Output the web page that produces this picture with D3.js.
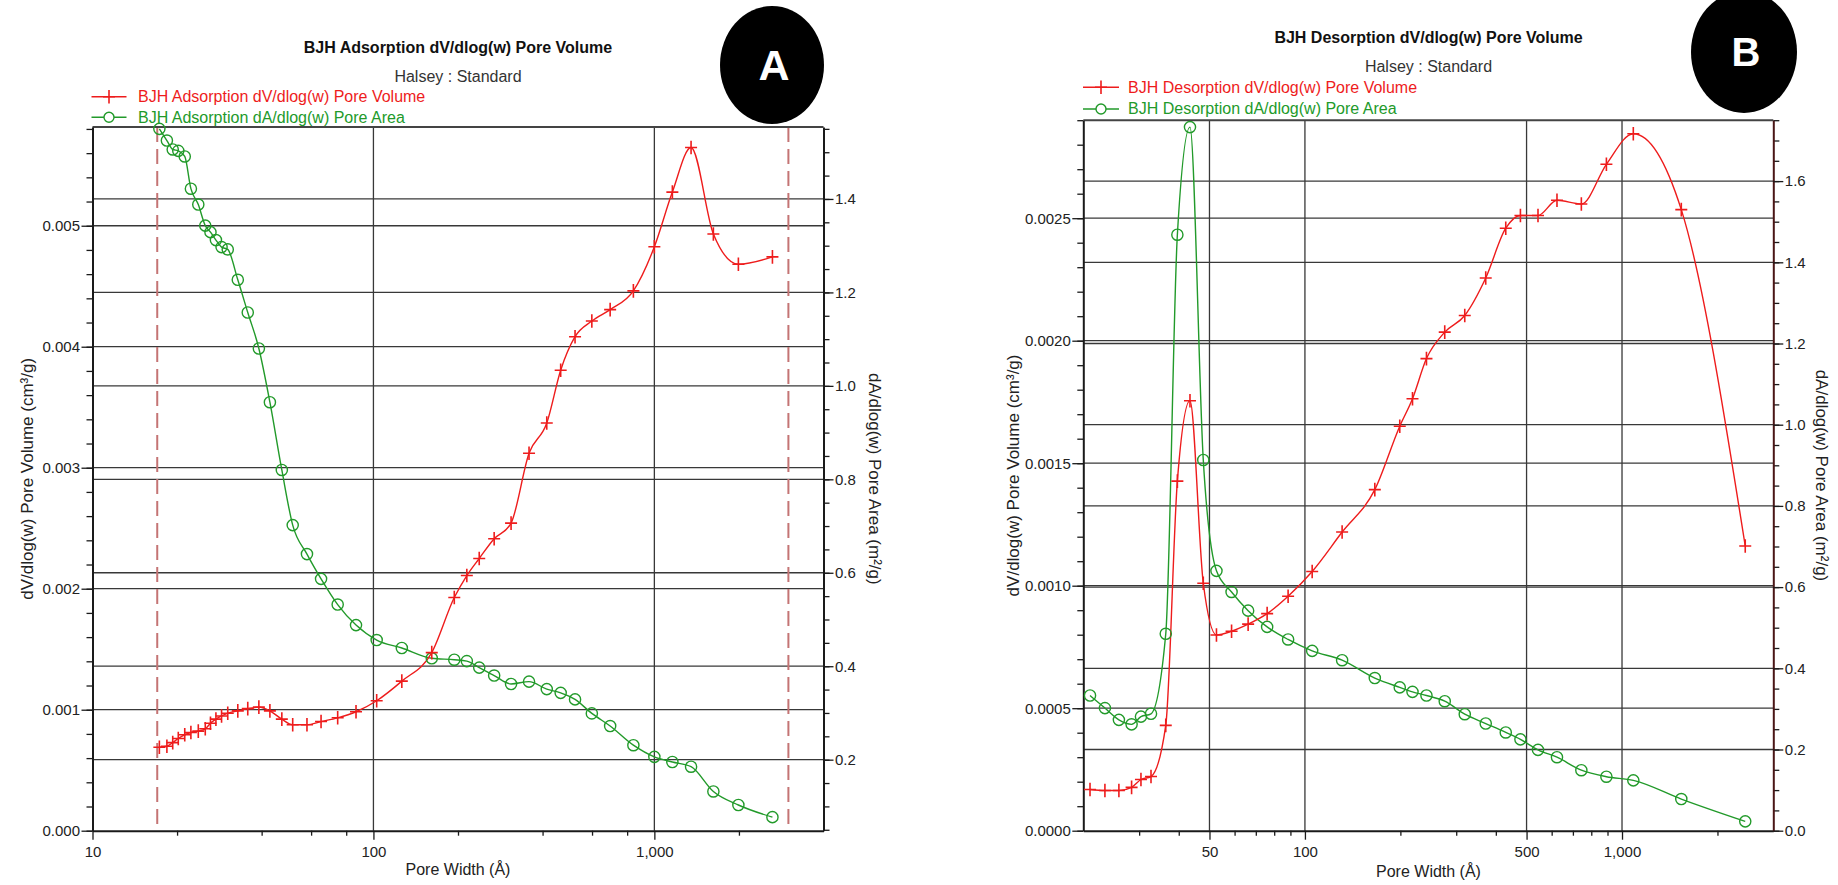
<!DOCTYPE html>
<html>
<head>
<meta charset="utf-8">
<script src="https://cdn.jsdelivr.net/npm/d3@7"></script>
<style>
  html, body { margin: 0; padding: 0; background: #fff; }
  svg { display: block; font-family: "Liberation Sans", Arial, Helvetica, sans-serif; }
</style>
</head>
<body>
<svg id="chart" width="1838" height="885"></svg>
<script>
// ---- BJH adsorption branch ----
// pore width (Å)
const adsWidth = [17.3, 18.4, 19.3, 20.2, 21.3, 22.4, 23.8, 25.2, 26.3, 27.5, 28.8, 30.3, 32.9, 35.7,
  39.1, 42.8, 47.2, 51.6, 58.0, 65.1, 74.6, 86.7, 102.7, 126.2, 161.3, 194, 215, 238, 269, 309,
  358, 414, 464, 522, 599, 696, 842, 1000, 1159, 1351, 1622, 1991, 2632];
// dV/dlog(w) pore volume (cm³/g)
const adsVolume = [0.000690, 0.000698, 0.000728, 0.000762, 0.000793, 0.000812, 0.000823, 0.000842,
  0.000888, 0.000922, 0.000948, 0.000971, 0.000990, 0.001009, 0.001021, 0.000990, 0.000922, 0.000876,
  0.000876, 0.000902, 0.000933, 0.000983, 0.001074, 0.001236, 0.001472, 0.001927, 0.002109, 0.002250,
  0.002413, 0.002542, 0.003119, 0.003369, 0.003806, 0.004083, 0.004212, 0.004307, 0.004462, 0.004826,
  0.005278, 0.005646, 0.004932, 0.004682, 0.004743];
// dA/dlog(w) pore area (m²/g)
const adsArea = [1.550, 1.525, 1.506, 1.503, 1.491, 1.422, 1.388, 1.343, 1.329, 1.312, 1.297, 1.292,
  1.227, 1.157, 1.080, 0.965, 0.820, 0.702, 0.640, 0.587, 0.532, 0.488, 0.456, 0.439, 0.417, 0.414,
  0.411, 0.397, 0.380, 0.362, 0.367, 0.351, 0.343, 0.329, 0.299, 0.272, 0.231, 0.206, 0.195, 0.185,
  0.132, 0.103, 0.077];

// ---- BJH desorption branch ----
const desWidth = [21.0, 23.4, 25.9, 28.4, 30.4, 32.7, 36.4, 39.6, 43.4, 47.8, 52.6, 58.7, 66.2, 76.0,
  88.5, 105.4, 131.0, 166.1, 199.1, 218.4, 241.7, 276.0, 319.2, 371.7, 429.9, 478.2, 543.3, 623.6,
  744.3, 892.8, 1085.5, 1538, 2447];
const desVolume = [0.000168, 0.000164, 0.000164, 0.000177, 0.000209, 0.000221, 0.000430, 0.001427,
  0.001755, 0.001010, 0.000799, 0.000814, 0.000843, 0.000886, 0.000957, 0.001058, 0.001219, 0.001392,
  0.001651, 0.001763, 0.001927, 0.002035, 0.002103, 0.002256, 0.002459, 0.002511, 0.002511, 0.002573,
  0.002558, 0.002720, 0.002845, 0.002535, 0.001162];
const desArea = [0.333, 0.302, 0.273, 0.262, 0.281, 0.288, 0.485, 1.468, 1.733, 0.913, 0.640, 0.588,
  0.542, 0.502, 0.471, 0.443, 0.420, 0.376, 0.353, 0.342, 0.333, 0.319, 0.287, 0.264, 0.242, 0.225,
  0.199, 0.181, 0.149, 0.133, 0.124, 0.078, 0.023];

// ---- axis ranges and ticks ----
const adsWidthDomain = [10, 4000];
const adsVolumeDomain = [0, 0.005816];
const adsAreaDomain = [0.048, 1.554];
const adsWidthTicks = [10, 100, 1000];
const adsWidthMinor = [20, 40, 60, 80, 200, 400, 600, 800, 2000];
const adsVolumeTicks = [0, 0.001, 0.002, 0.003, 0.004, 0.005];
const adsAreaTicks = [0.2, 0.4, 0.6, 0.8, 1.0, 1.2, 1.4];
const adsLimits = [17, 3000];

const desWidthDomain = [20, 3000];
const desVolumeDomain = [0, 0.0029];
const desAreaDomain = [0, 1.75];
const desWidthTicks = [50, 100, 500, 1000];
const desWidthMinor = [30, 40, 60, 70, 80, 90, 200, 300, 400, 600, 700, 800, 900, 2000];
const desVolumeTicks = [0, 0.0005, 0.0010, 0.0015, 0.0020, 0.0025];
const desAreaTicks = [0, 0.2, 0.4, 0.6, 0.8, 1.0, 1.2, 1.4, 1.6];
const desLimits = [];

const RED = '#ee1c1c';
const GREEN = '#229a2a';
const INK = '#1a1a1a';

const svg = d3.select('#chart');

const panels = [
  {
    label: 'A', badge: { cx: 772, cy: 65, rx: 52, ry: 59, fs: 43 },
    title: 'BJH Adsorption dV/dlog(w) Pore Volume', titleY: 53, subY: 82, cx: 458,
    volName: 'BJH Adsorption dV/dlog(w) Pore Volume', areaName: 'BJH Adsorption dA/dlog(w) Pore Area',
    legend: { x0: 91.5, x1: 126.5, tx: 138, y: [96.7, 117.3] },
    box: { left: 92.5, right: 823.5, top: 127, bottom: 830.7 },
    width: adsWidth, volume: adsVolume, area: adsArea,
    widthDomain: adsWidthDomain, volumeDomain: adsVolumeDomain, areaDomain: adsAreaDomain,
    widthTicks: adsWidthTicks, widthMinor: adsWidthMinor,
    volumeTicks: adsVolumeTicks, volumeMinorStep: 0.0002, volumeFormat: '.3f',
    areaTicks: adsAreaTicks, areaMinorStep: 0.05,
    limits: adsLimits, xTitleY: 875, leftTitleX: 27, rightTitleX: 875, rightAxisColor: INK
  },
  {
    label: 'B', badge: { cx: 1744, cy: 52, rx: 53, ry: 61, fs: 40 },
    title: 'BJH Desorption dV/dlog(w) Pore Volume', titleY: 43, subY: 72, cx: 1428.5,
    volName: 'BJH Desorption dV/dlog(w) Pore Volume', areaName: 'BJH Desorption dA/dlog(w) Pore Area',
    legend: { x0: 1083, x1: 1119, tx: 1128, y: [87.3, 109] },
    box: { left: 1083.3, right: 1773.3, top: 120.2, bottom: 830.7 },
    width: desWidth, volume: desVolume, area: desArea,
    widthDomain: desWidthDomain, volumeDomain: desVolumeDomain, areaDomain: desAreaDomain,
    widthTicks: desWidthTicks, widthMinor: desWidthMinor,
    volumeTicks: desVolumeTicks, volumeMinorStep: 0.0001, volumeFormat: '.4f',
    areaTicks: desAreaTicks, areaMinorStep: 0.05,
    limits: desLimits, xTitleY: 877, leftTitleX: 1013, rightTitleX: 1822, rightAxisColor: '#4a1616'
  }
];

function minorValues(domain, step) {
  const out = [];
  const start = Math.ceil(domain[0] / step - 1e-9);
  for (let i = start; i * step <= domain[1] + 1e-12; i++) out.push(+(i * step).toFixed(6));
  return out;
}

function styleAxis(sel, color) {
  sel.selectAll('path.domain').attr('stroke', color).attr('stroke-width', 2);
  sel.selectAll('.tick line').attr('stroke', INK).attr('stroke-width', 1.3);
  sel.selectAll('.tick text').attr('fill', '#222').style('font-size', '15px')
    .style('font-family', '"Liberation Sans", Arial, sans-serif');
}

function plusPath(s) { return `M${-s},0H${s}M0,${-s - 0.8}V${s + 0.8}`; }

panels.forEach(p => {
  const b = p.box;
  const x = d3.scaleLog().domain(p.widthDomain).range([b.left, b.right]);
  const yV = d3.scaleLinear().domain(p.volumeDomain).range([b.bottom, b.top]);
  const yA = d3.scaleLinear().domain(p.areaDomain).range([b.bottom, b.top]);
  const g = svg.append('g');

  // grid lines: one set per y axis, plus vertical lines at labelled widths
  const grid = g.append('g').attr('stroke', '#383838').attr('stroke-width', 1.3);
  grid.selectAll('line.gv').data(p.volumeTicks.filter(v => v > p.volumeDomain[0]))
    .join('line').attr('x1', b.left).attr('x2', b.right)
    .attr('y1', d => yV(d)).attr('y2', d => yV(d));
  grid.selectAll('line.ga').data(p.areaTicks.filter(v => v > p.areaDomain[0]))
    .join('line').attr('x1', b.left).attr('x2', b.right)
    .attr('y1', d => yA(d)).attr('y2', d => yA(d));
  grid.selectAll('line.gx').data(p.widthTicks.filter(v => v > p.widthDomain[0] && v < p.widthDomain[1]))
    .join('line').attr('y1', b.top).attr('y2', b.bottom)
    .attr('x1', d => x(d)).attr('x2', d => x(d));

  // pore-width limits of the calculation
  g.append('g').selectAll('line').data(p.limits).join('line')
    .attr('x1', d => x(d)).attr('x2', d => x(d)).attr('y1', b.top).attr('y2', b.bottom)
    .attr('stroke', '#c47474').attr('stroke-width', 2).attr('stroke-dasharray', '15,7');

  // top border
  g.append('line').attr('x1', b.left).attr('x2', b.right).attr('y1', b.top).attr('y2', b.top)
    .attr('stroke', '#444').attr('stroke-width', 2);

  // bottom axis
  const xMinor = g.append('g').attr('transform', `translate(0,${b.bottom})`)
    .call(d3.axisBottom(x).tickValues(p.widthMinor).tickSize(5).tickFormat('').tickSizeOuter(0));
  xMinor.select('path.domain').remove();
  styleAxis(xMinor, INK);
  const xMajor = g.append('g').attr('transform', `translate(0,${b.bottom})`)
    .call(d3.axisBottom(x).tickValues(p.widthTicks).tickSize(9).tickPadding(6.5)
      .tickFormat(d3.format(',')).tickSizeOuter(0));
  styleAxis(xMajor, INK);

  // left axis (pore volume)
  const lMinor = g.append('g').attr('transform', `translate(${b.left},0)`)
    .call(d3.axisLeft(yV).tickValues(minorValues(p.volumeDomain, p.volumeMinorStep))
      .tickSize(6).tickFormat('').tickSizeOuter(0));
  lMinor.select('path.domain').remove();
  styleAxis(lMinor, INK);
  const lMajor = g.append('g').attr('transform', `translate(${b.left},0)`)
    .call(d3.axisLeft(yV).tickValues(p.volumeTicks).tickSize(11).tickPadding(1.5)
      .tickFormat(d3.format(p.volumeFormat)).tickSizeOuter(0));
  styleAxis(lMajor, INK);

  // right axis (pore area)
  const rMinor = g.append('g').attr('transform', `translate(${b.right},0)`)
    .call(d3.axisRight(yA).tickValues(minorValues(p.areaDomain, p.areaMinorStep))
      .tickSize(6).tickFormat('').tickSizeOuter(0));
  rMinor.select('path.domain').remove();
  styleAxis(rMinor, INK);
  const rMajor = g.append('g').attr('transform', `translate(${b.right},0)`)
    .call(d3.axisRight(yA).tickValues(p.areaTicks).tickSize(10).tickPadding(1.5)
      .tickFormat(d3.format('.1f')).tickSizeOuter(0));
  styleAxis(rMajor, p.rightAxisColor);

  // axis titles
  g.append('text').attr('x', p.cx).attr('y', p.xTitleY).attr('text-anchor', 'middle')
    .attr('fill', '#222').style('font-size', '16px').text('Pore Width (Å)');
  const midY = (b.top + b.bottom) / 2;
  g.append('text').attr('transform', `translate(${p.leftTitleX},${midY}) rotate(-90)`)
    .attr('dy', '0.35em').attr('text-anchor', 'middle').attr('fill', '#222')
    .style('font-size', '17px').text('dV/dlog(w) Pore Volume (cm³/g)');
  g.append('text').attr('transform', `translate(${p.rightTitleX},${midY}) rotate(90)`)
    .attr('dy', '0.35em').attr('text-anchor', 'middle').attr('fill', '#222')
    .style('font-size', '17px').text('dA/dlog(w) Pore Area (m²/g)');

  // series
  const volPts = p.width.map((w, i) => [x(w), yV(p.volume[i])]);
  const areaPts = p.width.map((w, i) => [x(w), yA(p.area[i])]);
  const line = d3.line().curve(d3.curveMonotoneX);
  g.append('path').attr('d', line(areaPts)).attr('fill', 'none')
    .attr('stroke', GREEN).attr('stroke-width', 1.4);
  g.append('path').attr('d', line(volPts)).attr('fill', 'none')
    .attr('stroke', RED).attr('stroke-width', 1.4);
  g.append('g').selectAll('circle').data(areaPts).join('circle')
    .attr('cx', d => d[0]).attr('cy', d => d[1]).attr('r', 5.6)
    .attr('fill', 'none').attr('stroke', GREEN).attr('stroke-width', 1.4);
  g.append('g').selectAll('path').data(volPts).join('path')
    .attr('transform', d => `translate(${d[0]},${d[1]})`).attr('d', plusPath(6))
    .attr('fill', 'none').attr('stroke', RED).attr('stroke-width', 1.6);

  // titles
  g.append('text').attr('x', p.cx).attr('y', p.titleY).attr('text-anchor', 'middle')
    .attr('fill', '#111').style('font-size', '16px').style('font-weight', 'bold').text(p.title);
  g.append('text').attr('x', p.cx).attr('y', p.subY).attr('text-anchor', 'middle')
    .attr('fill', '#333').style('font-size', '16px').text('Halsey : Standard');

  // legend
  const L = p.legend;
  const items = [
    { name: p.volName, color: RED, kind: 'plus' },
    { name: p.areaName, color: GREEN, kind: 'circle' }
  ];
  items.forEach((it, i) => {
    const y = L.y[i];
    g.append('line').attr('x1', L.x0).attr('x2', L.x1).attr('y1', y).attr('y2', y)
      .attr('stroke', it.color).attr('stroke-width', 1.4);
    const mx = (L.x0 + L.x1) / 2;
    if (it.kind === 'plus') {
      g.append('path').attr('transform', `translate(${mx},${y})`).attr('d', plusPath(6))
        .attr('stroke', it.color).attr('stroke-width', 1.6).attr('fill', 'none');
    } else {
      g.append('circle').attr('cx', mx).attr('cy', y).attr('r', 5)
        .attr('stroke', it.color).attr('stroke-width', 1.4).attr('fill', '#fff');
    }
    g.append('text').attr('x', L.tx).attr('y', y + 5.3).attr('fill', it.color)
      .style('font-size', '16px').text(it.name);
  });

  // panel badge
  const bd = p.badge;
  g.append('ellipse').attr('cx', bd.cx).attr('cy', bd.cy).attr('rx', bd.rx).attr('ry', bd.ry)
    .attr('fill', '#000');
  g.append('text').attr('x', bd.cx + 2).attr('y', bd.cy).attr('dy', '0.36em')
    .attr('text-anchor', 'middle').attr('fill', '#fff')
    .style('font-size', bd.fs + 'px').style('font-weight', 'bold').text(p.label);
});
</script>
</body>
</html>
